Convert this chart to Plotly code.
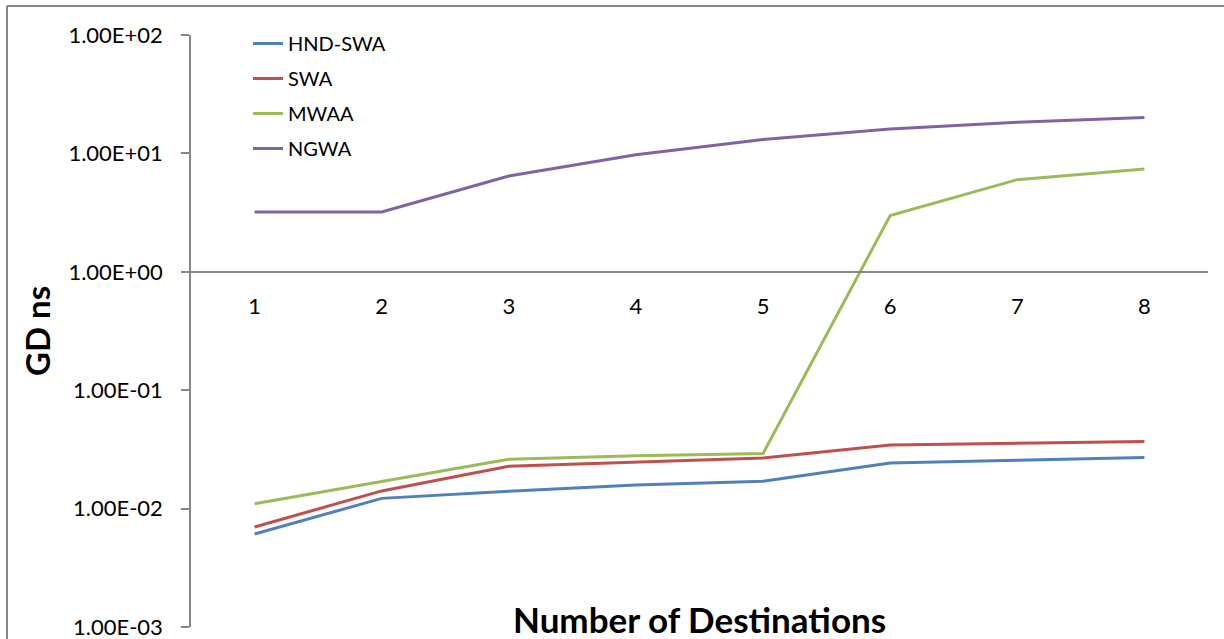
import plotly.graph_objects as go

destinations = [1, 2, 3, 4, 5, 6, 7, 8]
hnd_swa = [0.0061, 0.0122, 0.0140, 0.0158, 0.0170, 0.0243, 0.0256, 0.0270]
swa = [0.0070, 0.0141, 0.0228, 0.0248, 0.0268, 0.0345, 0.0356, 0.0368]
mwaa = [0.0110, 0.0170, 0.0261, 0.0279, 0.0292, 2.99, 6.0, 7.38]
ngwa = [3.2, 3.2, 6.44, 9.75, 13.1, 16.1, 18.3, 20.1]

series_names = ["HND-SWA", "SWA", "MWAA", "NGWA"]
series_values = [hnd_swa, swa, mwaa, ngwa]
series_colors = ["#4F81BD", "#C0504D", "#9BBB59", "#8064A2"]

ytick_vals = [1e-3, 1e-2, 1e-1, 1e0, 1e1, 1e2]
ytick_text = ["1.00E-03", "1.00E-02", "1.00E-01", "1.00E+00", "1.00E+01", "1.00E+02"]

FONT = "Lato"
AXIS_GRAY = "#868686"

fig = go.Figure()
for name, vals, col in zip(series_names, series_values, series_colors):
    fig.add_trace(go.Scatter(
        x=destinations, y=vals, name=name, mode="lines",
        legendgroup=name,
        line=dict(color=col, width=3),
    ))

fig.update_layout(
    width=1224, height=639,
    margin=dict(l=191, r=16, t=35, b=12, autoexpand=False),
    paper_bgcolor="white", plot_bgcolor="white",
    font=dict(family=FONT, size=20, color="black"),
    showlegend=True,
    legend=dict(
        x=(248 - 191) / 1017, y=(627 - 24) / 592, xanchor="left", yanchor="top",
        bgcolor="rgba(0,0,0,0)",
        font=dict(family=FONT, size=20, color="black"),
        tracegroupgap=6,
    ),
    xaxis=dict(
        type="linear", range=[0.5, 8.5],
        tickvals=destinations, ticktext=[str(d) for d in destinations],
        showgrid=False, zeroline=False,
        showline=True, linecolor=AXIS_GRAY, linewidth=1.5,
        ticks="", anchor="free", position=0.6,
        ticklabelstandoff=15,
        tickfont=dict(family=FONT, size=22),
    ),
    yaxis=dict(
        type="log", range=[-3, 2],
        tickvals=ytick_vals, ticktext=ytick_text,
        showgrid=False, zeroline=False,
        showline=True, linecolor=AXIS_GRAY, linewidth=1.5,
        ticks="outside", ticklen=8, tickcolor=AXIS_GRAY, tickwidth=1.5,
        ticklabelstandoff=14, ticklabeloverflow="allow",
        tickfont=dict(family=FONT, size=22),
    ),
)

# axis titles
fig.add_annotation(
    text="<b>Number of Destinations</b>", xref="paper", yref="paper",
    x=0.5, y=(627 - 619) / 592, xanchor="center", yanchor="middle",
    showarrow=False, font=dict(family=FONT, size=35, color="black"),
)
fig.add_annotation(
    text="<b>GD ns</b>", xref="paper", yref="paper",
    x=(37 - 191) / 1017, y=0.5, xanchor="center", yanchor="middle",
    textangle=-90, showarrow=False,
    font=dict(family=FONT, size=33, color="black"),
)

# chart-area border (left and top edges visible)
x_left = (7 - 191) / 1017
y_top = (627 - 6) / 592
fig.add_shape(type="line", xref="paper", yref="paper",
              x0=x_left, x1=x_left, y0=y_top, y1=-0.1,
              line=dict(color=AXIS_GRAY, width=2))
fig.add_shape(type="line", xref="paper", yref="paper",
              x0=x_left, x1=1.1, y0=y_top, y1=y_top,
              line=dict(color=AXIS_GRAY, width=2))

fig.write_html("out.html", config={"displayModeBar": False},
               post_script="document.body.style.margin='0px';")
